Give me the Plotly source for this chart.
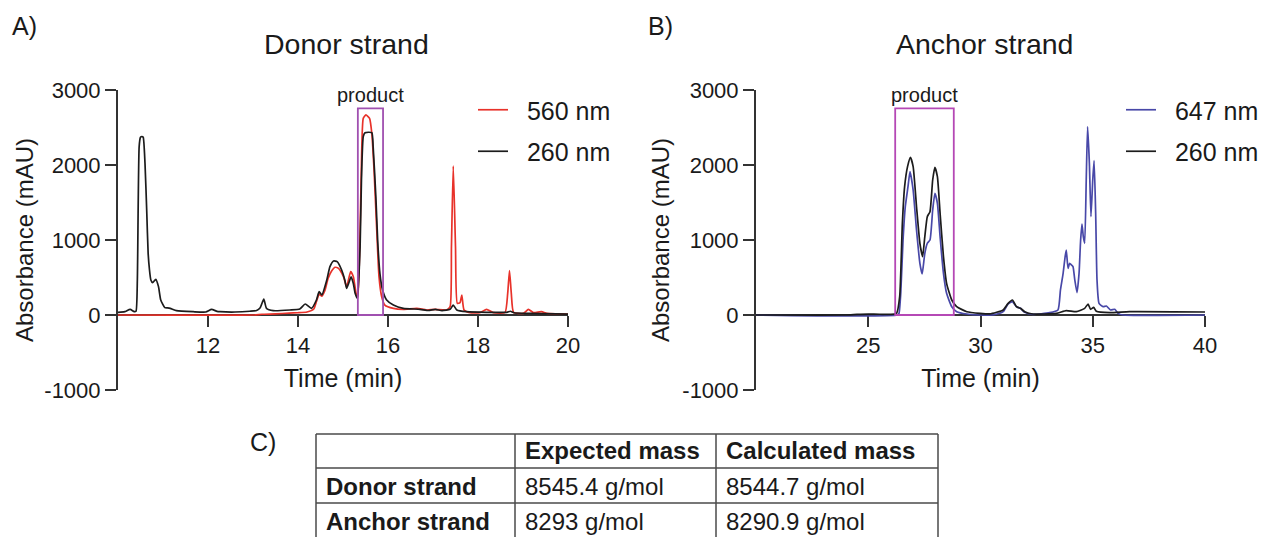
import plotly.graph_objects as go

W, H = 1262, 537

# ---------------- data ----------------
# Panel A: donor strand
donor_t_260 = [10.00, 10.15, 10.27, 10.36, 10.40, 10.43, 10.47, 10.50, 10.53, 10.56, 10.60, 10.64, 10.67, 10.70,
               10.73, 10.77, 10.84, 10.90, 10.95, 11.04, 11.10, 11.16, 11.30, 11.67, 11.95, 12.08, 12.20, 12.27,
               12.60, 12.93, 13.08, 13.16, 13.24, 13.30, 13.45, 13.82, 14.04, 14.16, 14.30, 14.41, 14.47, 14.53,
               14.64, 14.71, 14.79, 14.87, 14.97, 15.04, 15.08, 15.13, 15.18, 15.23, 15.27, 15.32, 15.38, 15.41,
               15.45, 15.49, 15.64, 15.67, 15.73, 15.77, 15.82, 15.88, 15.97, 16.12, 16.34, 16.71, 16.90, 17.05,
               17.20, 17.38, 17.45, 17.53, 17.75, 18.19, 18.64, 18.72, 18.80, 19.16, 20.00]
donor_v_260 = [35, 45, 75, 45, 50, 467, 2244, 2369, 2380, 2369, 2022, 1356, 822, 600,
               467, 431, 476, 378, 200, 98, 95, 89, 58, 44, 40, 75, 48, 44,
               40, 50, 60, 98, 213, 89, 58, 67, 80, 147, 89, 200, 311, 267,
               467, 644, 720, 711, 600, 467, 356, 430, 510, 420, 289, 222, 911, 1800,
               2378, 2431, 2431, 2244, 1578, 1000, 556, 333, 200, 133, 89, 76, 60, 75,
               58, 76, 133, 67, 44, 36, 36, 50, 30, 22, 13]

donor_t_560 = [10.00, 13.00, 13.20, 13.50, 13.80, 14.00, 14.20, 14.35, 14.41, 14.47, 14.53, 14.60, 14.67, 14.75,
               14.82, 14.90, 15.01, 15.08, 15.17, 15.23, 15.29, 15.33, 15.38, 15.41, 15.45, 15.51, 15.59, 15.64,
               15.69, 15.75, 15.80, 15.86, 15.93, 16.12, 16.34, 16.64, 16.86, 17.04, 17.30, 17.38, 17.41, 17.45,
               17.50, 17.54, 17.60, 17.64, 17.69, 17.82, 18.04, 18.19, 18.34, 18.60, 18.66, 18.70, 18.74, 18.79,
               19.01, 19.12, 19.23, 19.41, 19.53, 20.00]
donor_v_560 = [0, 0, 10, 15, 25, 30, 40, 80, 180, 278, 250, 330, 489, 590,
               636, 622, 511, 378, 578, 511, 289, 222, 1133, 2022, 2622, 2667, 2622, 2422,
               1933, 1133, 511, 244, 133, 89, 76, 89, 67, 76, 67, 111, 911, 1987,
               911, 156, 164, 267, 67, 31, 31, 76, 31, 31, 289, 591, 289, 36,
               22, 76, 31, 44, 22, 13]

# Panel B: anchor strand
anchor_t_260 = [20.0, 24.0, 24.5, 25.0, 25.5, 26.0, 26.26, 26.40, 26.52, 26.62, 26.75, 26.88, 27.00, 27.15,
                27.30, 27.42, 27.52, 27.63, 27.75, 27.87, 27.97, 28.08, 28.20, 28.35, 28.49, 28.72, 28.94, 29.39,
                29.98, 30.41, 31.01, 31.23, 31.42, 31.60, 31.78, 31.97, 32.34, 33.38, 33.82, 34.27, 34.64, 34.79,
                34.90, 35.04, 35.16, 35.75, 36.64, 40.0]
anchor_v_260 = [0, 0, 8, 12, 10, 8, 22, 244, 1222, 1711, 1978, 2102, 1978, 1444,
                956, 778, 1044, 1311, 1378, 1800, 1969, 1844, 1356, 778, 422, 200, 111, 44,
                22, 15, 67, 156, 200, 111, 89, 44, 13, 22, 58, 44, 89, 147,
                76, 102, 50, 31, 44, 40]

anchor_t_647 = [20.0, 26.30, 26.37, 26.45, 26.55, 26.65, 26.77, 26.86, 27.00, 27.15, 27.30, 27.40, 27.52, 27.63,
                27.75, 27.87, 27.97, 28.08, 28.20, 28.35, 28.49, 28.72, 28.94, 29.39, 29.98, 30.60, 31.01, 31.23,
                31.42, 31.60, 31.78, 31.97, 32.34, 33.08, 33.45, 33.56, 33.68, 33.77, 33.82, 33.90, 33.97, 34.05,
                34.12, 34.20, 34.30, 34.39, 34.46, 34.52, 34.58, 34.64, 34.71, 34.77, 34.85, 34.92, 35.00, 35.06,
                35.13, 35.19, 35.28, 35.46, 35.61, 35.79, 35.98, 36.13, 36.35, 40.0]
anchor_v_647 = [0, 0, 22, 300, 1000, 1444, 1711, 1911, 1666, 1133, 689, 547, 822, 956,
                1000, 1400, 1622, 1489, 1044, 556, 289, 111, 44, 13, 0, 5, 44, 147,
                178, 111, 89, 36, 9, 31, 67, 333, 556, 778, 867, 622, 689, 667,
                644, 467, 298, 556, 1000, 1213, 1044, 956, 1800, 2511, 2022, 1311, 1800, 2058,
                1356, 467, 156, 111, 120, 67, 76, 22, 0, 0]

# product windows (time start, time end, top)
donor_product = [15.33, 15.89, 2755]
anchor_product = [26.20, 28.81, 2755]

y_ticks = [-1000, 0, 1000, 2000, 3000]
y_ticktext = ["-1000", "0", "1000", "2000", "3000"]
donor_xticks = [12, 14, 16, 18, 20]
anchor_xticks = [25, 30, 35, 40]

# Panel C: mass table
table_header = ["", "Expected mass", "Calculated mass"]
table_rows = ["Donor strand", "Anchor strand"]
expected_mass = ["8545.4 g/mol", "8293 g/mol"]
calculated_mass = ["8544.7 g/mol", "8290.9 g/mol"]

# ---------------- styling ----------------
FONT = "Liberation Sans, Arial, sans-serif"
TXT = "#1a1a1a"
RED = "#E8322A"
BLACK = "#1c1c1c"
BLUE = "#4848A8"
AXC = "#333333"
GRID = "#4a4a4a"


def px(x):
    return x / W


def py(y):
    return 1 - y / H


ydom = [py(390), py(90)]
xpos = py(315)

fig = go.Figure()

line_kw = dict(shape="spline", smoothing=0.5, width=1.7)
SP = "\u00a0\u00a0"

fig.add_trace(go.Scatter(x=donor_t_560, y=donor_v_560, mode="lines", name=SP + "560 nm",
                         line=dict(color=RED, **line_kw), xaxis="x", yaxis="y",
                         legend="legend", legendgroup="a1"))
fig.add_trace(go.Scatter(x=donor_t_260, y=donor_v_260, mode="lines", name=SP + "260 nm",
                         line=dict(color=BLACK, **line_kw), xaxis="x", yaxis="y",
                         legend="legend", legendgroup="a2"))
fig.add_trace(go.Scatter(x=anchor_t_647, y=anchor_v_647, mode="lines", name=SP + "647 nm",
                         line=dict(color=BLUE, **line_kw), xaxis="x2", yaxis="y2",
                         legend="legend2", legendgroup="b1"))
fig.add_trace(go.Scatter(x=anchor_t_260, y=anchor_v_260, mode="lines", name=SP + "260 nm",
                         line=dict(color=BLACK, **line_kw), xaxis="x2", yaxis="y2",
                         legend="legend2", legendgroup="b2"))

axis_common = dict(showline=True, linecolor=AXC, linewidth=2, ticks="outside", ticklen=11,
                   tickwidth=2, tickcolor=AXC, showgrid=False, zeroline=False, automargin=False,
                   layer="below traces",
                   tickfont=dict(family=FONT, size=22, color=TXT))

fig.update_layout(
    width=W, height=H, margin=dict(l=0, r=0, t=0, b=0, autoexpand=False),
    paper_bgcolor="white", plot_bgcolor="rgba(0,0,0,0)",
    font=dict(family=FONT, color=TXT),
    xaxis=dict(domain=[px(118), px(568)], range=[10, 20], anchor="free", position=xpos,
               tickvals=donor_xticks,
               title=dict(text="Time (min)", font=dict(size=25, family=FONT, color=TXT), standoff=11),
               **axis_common),
    yaxis=dict(domain=ydom, range=[-1000, 3000], anchor="x", tickvals=y_ticks, ticktext=y_ticktext,
               title=dict(text="Absorbance (mAU)", font=dict(size=24, family=FONT, color=TXT), standoff=4),
               **axis_common),
    xaxis2=dict(domain=[px(756), px(1205)], range=[20, 40], anchor="free", position=xpos,
                tickvals=anchor_xticks,
                title=dict(text="Time (min)", font=dict(size=25, family=FONT, color=TXT), standoff=11),
                **axis_common),
    yaxis2=dict(domain=ydom, range=[-1000, 3000], anchor="x2", tickvals=y_ticks, ticktext=y_ticktext,
                title=dict(text="Absorbance (mAU)", font=dict(size=24, family=FONT, color=TXT), standoff=6),
                **axis_common),
    legend=dict(x=px(473), y=py(87), xanchor="left", yanchor="top", bgcolor="rgba(0,0,0,0)",
                font=dict(family=FONT, size=25, color=TXT), traceorder="grouped", tracegroupgap=6),
    legend2=dict(x=px(1121), y=py(87), xanchor="left", yanchor="top", bgcolor="rgba(0,0,0,0)",
                 font=dict(family=FONT, size=25, color=TXT), traceorder="grouped", tracegroupgap=6),
    showlegend=True,
)

shapes = [
    dict(type="rect", xref="x", yref="y", x0=donor_product[0], x1=donor_product[1], y0=0,
         y1=donor_product[2], line=dict(color="#A050B0", width=1.8)),
    dict(type="rect", xref="x2", yref="y2", x0=anchor_product[0], x1=anchor_product[1], y0=0,
         y1=anchor_product[2], line=dict(color="#B548B5", width=1.8)),
]

# table grid (layout geometry in pixels)
col_edges = [316, 515, 716, 938]
row_edges = [434, 468, 503]
tbl_bottom = 540
for xe in col_edges:
    shapes.append(dict(type="line", xref="paper", yref="paper", x0=px(xe), x1=px(xe),
                       y0=py(row_edges[0]), y1=py(tbl_bottom), line=dict(color=GRID, width=1.5)))
for ye in row_edges:
    shapes.append(dict(type="line", xref="paper", yref="paper", x0=px(col_edges[0]), x1=px(col_edges[-1]),
                       y0=py(ye), y1=py(ye), line=dict(color=GRID, width=1.5)))
fig.update_layout(shapes=shapes)

center = dict(xanchor="center", yanchor="middle", showarrow=False)
ann = [
    dict(text="A)", x=px(24), y=py(26), xref="paper", yref="paper", font=dict(size=25), **center),
    dict(text="B)", x=px(660), y=py(26), xref="paper", yref="paper", font=dict(size=25), **center),
    dict(text="C)", x=px(263), y=py(442), xref="paper", yref="paper", font=dict(size=25), **center),
    dict(text="Donor strand", x=px(346), y=py(44), xref="paper", yref="paper", font=dict(size=28.5), **center),
    dict(text="Anchor strand", x=px(984), y=py(44), xref="paper", yref="paper", font=dict(size=28.5), **center),
    dict(text="product", x=(donor_product[0] + donor_product[1]) / 2, y=2930, xref="x", yref="y",
         font=dict(size=20), **center),
    dict(text="product", x=(anchor_product[0] + anchor_product[1]) / 2, y=2930, xref="x2", yref="y2",
         font=dict(size=20), **center),
]

# table text
row_centers = [451, 486, 521]
columns = [[table_header[0]] + table_rows,
           [table_header[1]] + expected_mass,
           [table_header[2]] + calculated_mass]
for ci, col in enumerate(columns):
    for ri, val in enumerate(col):
        if not val:
            continue
        bold = (ri == 0) or (ci == 0)
        ann.append(dict(text=f"<b>{val}</b>" if bold else val,
                        x=px(col_edges[ci] + 8), y=py(row_centers[ri]), xref="paper", yref="paper",
                        xanchor="left", yanchor="middle", showarrow=False,
                        font=dict(size=24, family=FONT, color=TXT)))
fig.update_layout(annotations=ann)

fig.write_html("out.html")
